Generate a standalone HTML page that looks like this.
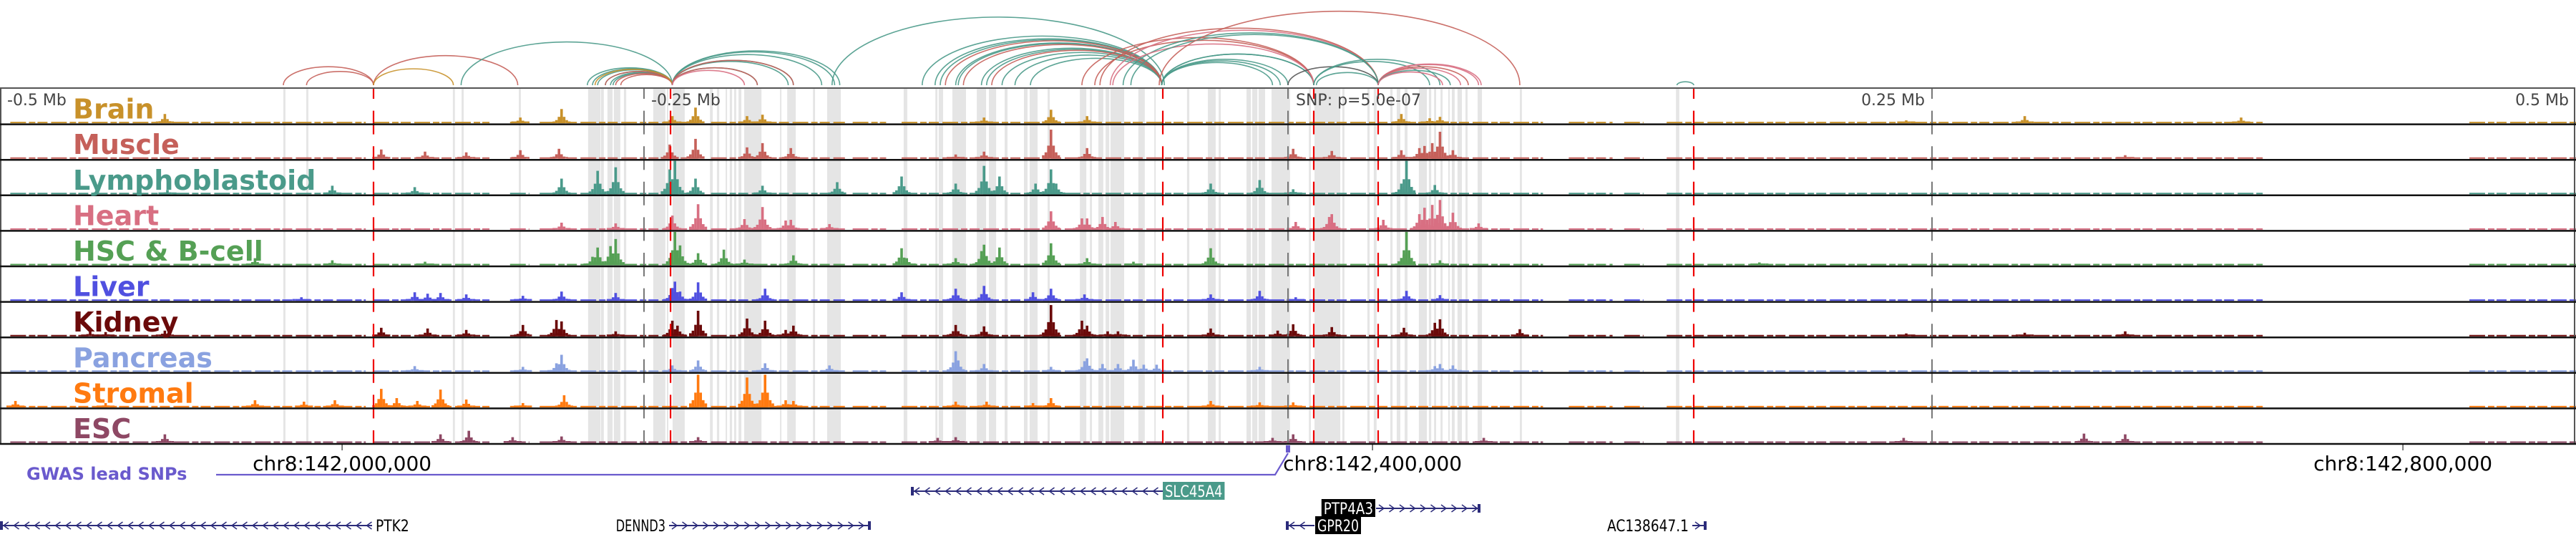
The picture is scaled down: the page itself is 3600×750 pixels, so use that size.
<!DOCTYPE html>
<html><head><meta charset="utf-8"><title>Regulatory tracks chr8</title>
<style>
html,body{margin:0;padding:0;background:#fff;}
svg{display:block;font-family:"DejaVu Sans","Liberation Sans",sans-serif;}
</style></head>
<body>
<svg id="fig" width="3600" height="750" viewBox="0 0 3600 750" xmlns="http://www.w3.org/2000/svg">
<g id="bands"></g>
<g id="tracks"></g>
<g id="arcs"></g>
<g id="vlines"></g>
<g id="frame"></g>
<g id="labels"></g>
<g id="axis"></g>
<g id="genes"></g>
</svg>
<script>
// ---- data (positions in kb from window start, window = 1000 kb, lead SNP at 500 kb) ----
const windowStartBp = 141867200;
const trackNames = ["Brain","Muscle","Lymphoblastoid","Heart","HSC & B-cell","Liver","Kidney","Pancreas","Stromal","ESC"];
const trackColors = ["#c8912a","#c5605a","#4a9a8a","#d86f82","#55a055","#5050e0","#6b0a0a","#8aa2e0","#ff7a10","#8e4864"];
const coverage = [[4,142],[145,190],[198,205.5],[209.5,271],[276,328],[331,344],[350,599],[609,626],[630.5,638],[647,879],[958.6,1000]];
const brainPeaks = [[64,13],[218,20],[270,22],[290,10],[296,12],[261,10],[202,8],[408,19],[422,10],[382,8],[544,13],[559,9],[555,7],[786,10],[870,8],[740,4]];
const musclePeaks = [[270,28],[296,22],[260,20],[217,14],[290,16],[307,15],[148,13],[165,10],[181,9],[202,12],[408,41],[422,15],[382,10],[371,6],[502,14],[517,11],[559,38],[556,22],[553,18],[551,15],[544,12],[564,12],[825,5]];
const lymphoPeaks = [[262,47],[260,35],[239,38],[232,33],[270,22],[218,22],[296,12],[325,17],[161,10],[129,12],[65,6],[382,40],[371,15],[350,25],[388,25],[402,15],[408,35],[410,15],[470,15],[489,20],[502,7],[546,47],[544,15],[557,13]];
const heartPeaks = [[271,36],[296,32],[289,15],[307,14],[305,13],[261,20],[239,9],[218,10],[322,8],[408,26],[422,16],[428,18],[433,11],[420,16],[503,11],[517,22],[516,18],[537,14],[559,42],[556,35],[553,31],[558,21],[564,24],[551,22],[574,9]];
const hscPeaks = [[262,47],[264,28],[239,37],[237,27],[232,25],[230,12],[271,17],[281,22],[289,8],[99,10],[129,7],[165,5],[308,14],[350,24],[352,10],[371,10],[382,29],[381,20],[388,25],[408,31],[422,10],[470,24],[546,47],[545,15],[559,7],[440,5],[683,4]];
const liverPeaks = [[262,27],[261,18],[264,13],[271,26],[297,17],[161,12],[166,10],[171,11],[181,9],[203,7],[218,13],[239,11],[117,5],[371,17],[382,21],[350,12],[401,12],[408,17],[421,9],[470,9],[489,14],[546,14],[559,8],[503,5]];
const kidneyPeaks = [[271,36],[261,22],[263,15],[216,23],[218,21],[203,16],[166,11],[181,9],[148,12],[290,25],[297,22],[305,9],[239,7],[35,7],[64,8],[41,6],[308,15],[408,44],[407,20],[420,22],[422,15],[371,16],[382,14],[559,24],[557,19],[502,17],[517,13],[496,8],[470,11],[545,12],[590,10],[430,7],[434,7],[740,4],[786,5],[825,7]];
const pancreasPeaks = [[218,24],[216,12],[203,7],[261,9],[271,16],[297,12],[161,8],[371,29],[372,16],[382,11],[322,9],[422,19],[421,15],[428,11],[434,11],[440,17],[444,10],[449,10],[559,11],[557,8],[564,9],[489,7],[408,7]];
const stromalPeaks = [[271,46],[297,46],[290,42],[305,10],[148,26],[154,13],[171,25],[162,9],[181,11],[219,17],[99,10],[118,8],[130,10],[6,9],[41,6],[203,6],[308,9],[371,8],[383,8],[401,6],[408,13],[470,9],[489,7],[502,7]];
const escPeaks = [[182,17],[171,12],[218,9],[199,8],[64,12],[271,8],[364,7],[371,8],[502,12],[494,7],[576,7],[739,7],[809,13],[825,12]];
const bandStarts = [110,118.9,175.8,179.2,201.4,228.3,233.3,235.8,238.3,242.2,253.6,258.9,261.1,275.6,278.3,281.7,283.3,285,286.7,288.9,302.8,305.6,315.6,321.1,350.8,363.1,364.4,369.7,379.2,383.9,390,397.5,399.7,406.7,419.2,423.1,426.4,429.2,431.1,441.9,448.1,460.8,468.9,471.1,473.1,483.9,486.1,488.6,493.6,508.1,510.3,521.1,530.8,533.3,539.7,542.2,545.3,550.8,554.7,556.7,559.2,562.2,563.6,565.8,568.9,573.6,590,650.6];
const bandEnds = [110.8,119.7,176.6,180,202.2,233.1,234.4,237.8,240.8,243.1,258.3,259.4,265.8,276.7,279.2,282.2,284.2,285.8,287.8,295.6,303.3,308.9,316.4,326.4,352.2,363.9,366.1,375,382.8,386.7,391.1,398.9,402.8,407.5,421.7,423.9,428.3,430.6,436.4,444.4,448.6,461.7,471.9,471.9,473.9,485.6,488.1,491.1,500.8,508.9,520.3,521.9,531.7,534.4,540.6,543.6,546.4,553.9,555.6,557.5,560,562.8,564.7,567.5,569.7,575.3,590.8,651.9];
const leadSnps = [145,260.3,451.4,510,535,657.5];
const mbTicks = [250,500,750];
const arcStart = [110,119,145,145,179,228,230,232,235,237,238,235,239,241,231,261,261,261,261,261,261,261,261,261,323,363,365,371,372,381,383,389,394,400,358,367,374,385,451,451,451,451,451,420,425,431,436,427,432,439,500,511,510,510,535,535,535,535,535,535,450,651];
const arcEnd = [145,145,201,176,261,261,261,261,261,261,261,261,261,261,261,294,306,308,319,324,326,308,294,289,452,451,451,451,451,451,451,451,451,451,451,451,451,451,494,497,510,510,500,510,510,535,535,535,510,535,535,535,559,555,575,574,570,567,563,560,590,657.5];
const arcColor = ["r","r","r","g","t","t","t","t","t","t","t","r","r","r","g","t","t","t","t","t","t","r","r","p","t","t","t","t","t","t","t","t","t","t","t","r","r","r","t","t","t","t","t","r","r","p","t","r","p","t","k","t","t","t","p","p","r","p","t","p","r","t"];
const chrTicks = [142000000,142400000,142800000];

// ---- scales ----
const X = kb => kb * 3.6;
const Xbp = bp => X((bp - windowStartBp) / 1000);
const trackTop0 = 124, trackH = 49.6, frameBottom = 124 + 10 * 49.6;
const trackBottom = i => trackTop0 + (i + 1) * trackH;
const Y = v => v * (trackH - 3) / 47;
const NS = "http://www.w3.org/2000/svg";
function mk(tag, parent, attrs){ const e = document.createElementNS(NS, tag); for (const k in attrs) e.setAttribute(k, attrs[k]); parent.appendChild(e); return e; }

// bands
const gB = document.getElementById("bands");
bandStarts.forEach((s, i) => {
  const r = mk("rect", gB, {x: X(s), y: trackTop0, width: Math.max(2, X(bandEnds[i]) - X(s)), height: frameBottom - trackTop0, fill: "#e5e5e5"});
  
  
});

// tracks
const allPeaks = [brainPeaks, musclePeaks, lymphoPeaks, heartPeaks, hscPeaks, liverPeaks, kidneyPeaks, pancreasPeaks, stromalPeaks, escPeaks];
const gT = document.getElementById("tracks");
trackNames.forEach((name, i) => {
  const g = mk("g", gT, {fill: trackColors[i]});
  
  
  const b = trackBottom(i) - 1.5;
  coverage.forEach(c => {
    const l = mk("line", g, {x1: X(c[0]), x2: X(c[1]), y1: b - 1, y2: b - 1, stroke: trackColors[i], "stroke-width": 2, "stroke-dasharray": "22 4 9 3 14 5"});
    
    
  });
  allPeaks[i].forEach(p => {
    [[-3, 0.12], [-2, 0.22], [-1, 0.45], [1, 0.45], [2, 0.22], [3, 0.12], [0, 1]].forEach(([d, f]) => {
      const h = Math.max(2.5, Y(p[1] * f));
      const r = mk("rect", g, {x: X(p[0] + d - 0.5), y: b - h, width: 3.6, height: h});
      
      
    });
  });
});

// arcs
const arcColors = {t: "#4a9a8a", r: "#c5605a", p: "#d86f82", g: "#c8912a", k: "#555555"};
const gA = document.getElementById("arcs");
arcStart.forEach((s, i) => {
  const x1 = X(s), x2 = X(arcEnd[i]), rx = (x2 - x1) / 2, ry = rx * 0.41, y0 = 119;
  const p = mk("path", gA, {d: `M${x1},${y0} A${rx},${ry} 0 0 1 ${x2},${y0}`, fill: "none", stroke: arcColors[arcColor[i]], "stroke-width": 1.6, opacity: 0.9});
  
  
});

// vertical marker lines
const gV = document.getElementById("vlines");
mbTicks.forEach(kb => {
  const l = mk("line", gV, {x1: X(kb), x2: X(kb), y1: trackTop0, y2: frameBottom, stroke: "#777", "stroke-width": 2, "stroke-dasharray": "33 16.6", "stroke-dashoffset": 19});
  
  
});
leadSnps.forEach(kb => {
  const l = mk("line", gV, {x1: X(kb), x2: X(kb), y1: trackTop0, y2: frameBottom, stroke: "#ee0000", "stroke-width": 2.2, "stroke-dasharray": "33 16.6", "stroke-dashoffset": 19});
  
  
});

// frame
const gF = document.getElementById("frame");
const fr = mk("rect", gF, {x: 1, y: trackTop0 - 1, width: 3597, height: frameBottom - trackTop0 + 1, fill: "none", stroke: "#555", "stroke-width": 2});


for (let i = 0; i < 10; i++) {
  const l = mk("line", gF, {x1: 0, x2: 3600, y1: trackBottom(i), y2: trackBottom(i), stroke: "#111", "stroke-width": 2.5});
  
  
}

// labels
const gL = document.getElementById("labels");
trackNames.forEach((name, i) => {
  const t = mk("text", gL, {x: 102, y: trackBottom(i) - 8, fill: trackColors[i], "font-size": 38, "font-weight": "bold"});
  t.textContent = name;
  
  
});
const mbLabels = [[10, "start", "-0.5 Mb"], [910, "start", "-0.25 Mb"], [1811, "start", "SNP: p=5.0e-07"], [2690, "end", "0.25 Mb"], [3590, "end", "0.5 Mb"]];
mbLabels.forEach(m => {
  const t = mk("text", gL, {x: m[0], y: 147, "text-anchor": m[1], fill: "#444", "font-size": 22});
  t.textContent = m[2];
  
  
});

// genomic axis
const gX = document.getElementById("axis");
chrTicks.forEach(bp => {
  const x = Xbp(bp);
  const l = mk("line", gX, {x1: x, x2: x, y1: frameBottom, y2: frameBottom + 9, stroke: "#000", "stroke-width": 1});
  
  
  const t = mk("text", gX, {x: x, y: 657, "text-anchor": "middle", "font-size": 28, fill: "#000"});
  t.textContent = "chr8:" + bp.toLocaleString("en-US");
  
  
});
const gw = mk("text", gX, {x: 37, y: 670, "font-size": 24, "font-weight": "bold", fill: "#6a5acd"});
gw.textContent = "GWAS lead SNPs";


const snpX = X(500);
const gl = mk("polyline", gX, {points: `302,663 ${snpX - 18},663 ${snpX},633`, fill: "none", stroke: "#6a5acd", "stroke-width": 2.2});


const gm = mk("rect", gX, {x: snpX - 3, y: 622, width: 6, height: 10, fill: "#6a5acd"});



// genes
const gG = document.getElementById("genes");
function gene(name, x1, x2, y, dir, lab, labSide, box){
  const g = mk("g", gG, {});
  
  
  mk("line", g, {x1: x1, x2: x2, y1: y, y2: y, stroke: "#2b2b7a", "stroke-width": 2});
  for (let x = x1 + 8; x < x2 - 4; x += 14.5) {
    const d = dir < 0 ? `M${x + 4},${y - 5} L${x - 3},${y} L${x + 4},${y + 5}` : `M${x - 4},${y - 5} L${x + 3},${y} L${x - 4},${y + 5}`;
    mk("path", g, {d: d, fill: "none", stroke: "#2b2b7a", "stroke-width": 1.5});
  }
  mk("rect", g, {x: dir < 0 ? x1 : x2 - 4, y: y - 6, width: 4, height: 12, fill: "#2b2b7a"});
  const w = name.length * 11.2 + 6;
  const lx = labSide === "right" ? lab : lab - w;
  if (box) mk("rect", g, {x: lx - 2, y: y - 13, width: w + 2, height: 25, fill: box});
  const t = mk("text", g, {x: lx + 1, y: y + 8, "font-size": 22, fill: box ? "#fff" : "#000", textLength: w - 4, lengthAdjust: "spacingAndGlyphs"});
  t.textContent = name;
}
gene("PTK2", 0, 520, 734, -1, 524, "right", null);
gene("DENND3", 935, 1217, 734, 1, 933, "left", null);
gene("SLC45A4", 1273, 1625, 686, -1, 1627, "right", "#4a9a8a");
gene("PTP4A3", 1923, 2069, 710, 1, 1922, "left", "#000");
gene("GPR20", 1797, 1837, 734, -1, 1840, "right", "#000");
gene("AC138647.1", 2365, 2385, 734, 1, 2363, "left", null);
</script>
</body></html>
